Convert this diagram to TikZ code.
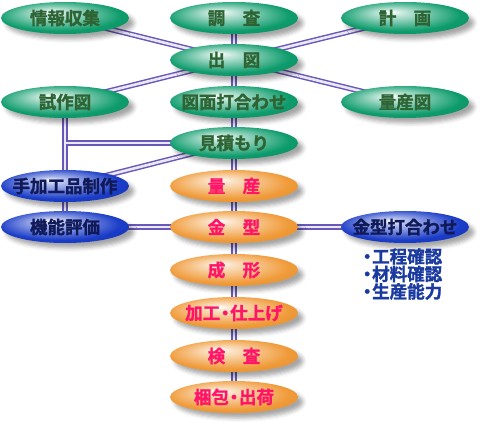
\documentclass[tikz,border=0pt]{standalone}
\usepackage{fontspec}
\newfontfamily\jp{Noto Sans CJK JP Bold}[FakeBold=1.6]
\usetikzlibrary{shapes.geometric,shadows.blur}
\definecolor{grnedge}{HTML}{0E9C6C}
\definecolor{grntext}{HTML}{2E6434}
\definecolor{orgedge}{HTML}{F09A38}
\definecolor{orgtext}{HTML}{FF1468}
\definecolor{bluedge}{HTML}{1A3CC8}
\definecolor{blutext}{HTML}{101A58}
\definecolor{notetext}{HTML}{1A3AA0}
\definecolor{pipec}{HTML}{6858B8}
\definecolor{pipein}{HTML}{ECE8FA}
\pgfdeclareradialshading{grnball}{\pgfpoint{-6bp}{10bp}}{color(0bp)=(white); color(5bp)=(white!75!grnedge); color(24bp)=(grnedge); color(40bp)=(grnedge!85!black)}
\pgfdeclareradialshading{orgball}{\pgfpoint{-6bp}{10bp}}{color(0bp)=(white); color(5bp)=(white!70!orgedge); color(24bp)=(orgedge); color(40bp)=(orgedge!90!black)}
\pgfdeclareradialshading{bluball}{\pgfpoint{-6bp}{10bp}}{color(0bp)=(white); color(5bp)=(white!70!bluedge); color(24bp)=(bluedge); color(40bp)=(bluedge!85!black)}
\pgfdeclarelayer{pipes}
\pgfsetlayers{pipes,main}
\newcommand{\nakaguro}{\makebox[10pt][c]{・}}
\tikzset{
  oval/.style={ellipse,minimum width=128pt,minimum height=32pt,inner xsep=-25pt,inner ysep=0pt,
    font=\jp\fontsize{17.5}{17.5}\selectfont,
    blur shadow={shadow xshift=5pt,shadow yshift=-5pt,shadow blur radius=4pt,shadow opacity=35}},
  grn/.style={shading=grnball,text=grntext},
  org/.style={shading=orgball,text=orgtext},
  blu/.style={shading=bluball,text=blutext},
  pipeout/.style={line width=5.5pt,draw=pipec},
  pipeinner/.style={line width=2.6pt,draw=pipein}
}
\begin{document}
\begin{tikzpicture}[x=1pt,y=-1pt]
\useasboundingbox (0,0) rectangle (480,425);
\node[oval,grn] (joho) at (65,18) {情報収集};
\node[oval,grn] (chosa) at (234,18) {調　査};
\node[oval,grn] (keikaku) at (405,18) {計　画};
\node[oval,grn] (shutsuzu) at (234,60) {出　図};
\node[oval,grn] (shisaku) at (65,102) {試作図};
\node[oval,grn] (uchiawase) at (234,102) {図面打合わせ};
\node[oval,grn] (ryosanzu) at (405,102) {量産図};
\node[oval,grn] (mitsumori) at (234,143) {見積もり};
\node[oval,blu] (tekako) at (65,186) {手加工品制作};
\node[oval,blu] (kino) at (65,227) {機能評価};
\node[oval,org] (ryosan) at (234,186) {量　産};
\node[oval,org] (kanagata) at (234,227) {金　型};
\node[oval,blu] (kanaawase) at (405,227) {金型打合わせ};
\node[oval,org] (seikei) at (234,270) {成　形};
\node[oval,org] (kako) at (234,313) {加工\nakaguro 仕上げ};
\node[oval,org] (kensa) at (234,356) {検　査};
\node[oval,org] (konpo) at (234,397) {梱包\nakaguro 出荷};
\node[anchor=west,inner sep=0pt,align=left,text=notetext,
  font=\jp\fontsize{17.5}{17.5}\selectfont] (kakunin) at (362,274)
  {\nakaguro 工程確認\\\nakaguro 材料確認\\\nakaguro 生産能力};
\coordinate (tee) at (shisaku.center |- mitsumori.center);
% pipes under the ovals
\begin{pgfonlayer}{pipes}
\foreach \a/\b in {chosa/konpo,joho/shutsuzu,keikaku/shutsuzu,shisaku/shutsuzu,
  ryosanzu/shutsuzu,shisaku/kino,tee/mitsumori,tekako/mitsumori,
  kino/kanagata,kanagata/kanaawase}
  \draw[pipeout] (\a.center) -- (\b.center);
\foreach \a/\b in {chosa/konpo,joho/shutsuzu,keikaku/shutsuzu,shisaku/shutsuzu,
  ryosanzu/shutsuzu,shisaku/kino,tee/mitsumori,tekako/mitsumori,
  kino/kanagata,kanagata/kanaawase}
  \draw[pipeinner] (\a.center) -- (\b.center);
\end{pgfonlayer}
\end{tikzpicture}
\end{document}
